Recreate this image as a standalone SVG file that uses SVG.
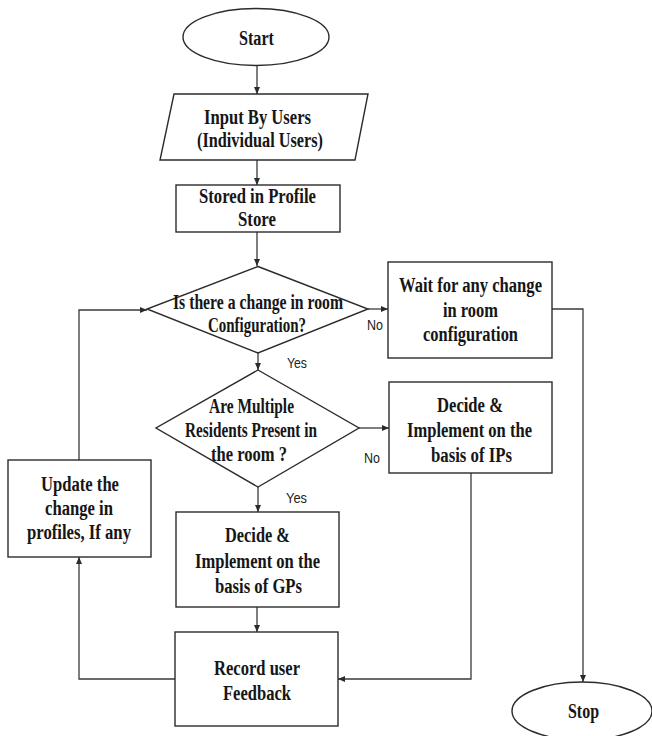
<svg xmlns="http://www.w3.org/2000/svg" width="652" height="736" viewBox="0 0 652 736">
<defs>
<style>
.shape{fill:#fff;stroke:#2b2b2b;stroke-width:1.4}
.conn{fill:none;stroke:#3a3a3a;stroke-width:1.3}
.t{font-family:"Liberation Serif","Times New Roman",serif;font-weight:bold;font-size:20.5px;fill:#161616}
.lbl{font-family:"Liberation Sans",Arial,sans-serif;font-size:15px;fill:#222}
</style>
<marker id="ah" markerWidth="7" markerHeight="6" refX="7" refY="3" orient="auto" markerUnits="userSpaceOnUse">
<path d="M0,0 L7,3 L0,6 Z" fill="#2b2b2b"/>
</marker>
</defs>
<rect width="652" height="736" fill="#fff"/>

<g id="connectors">
<path class="conn" d="M257,65 V94" marker-end="url(#ah)"/>
<path class="conn" d="M257,160 V185" marker-end="url(#ah)"/>
<path class="conn" d="M257,232 V266" marker-end="url(#ah)"/>
<path class="conn" d="M368,309 H388" marker-end="url(#ah)"/>
<path class="conn" d="M258,353 V370" marker-end="url(#ah)"/>
<path class="conn" d="M359,428 H389" marker-end="url(#ah)"/>
<path class="conn" d="M258,487 V512" marker-end="url(#ah)"/>
<path class="conn" d="M257,607 V632" marker-end="url(#ah)"/>
<path class="conn" d="M471,473 V679 H338" marker-end="url(#ah)"/>
<path class="conn" d="M175,679 H79 V557" marker-end="url(#ah)"/>
<path class="conn" d="M79,460 V310 H147" marker-end="url(#ah)"/>
<path class="conn" d="M552,309 H583 V682" marker-end="url(#ah)"/>
<text class="lbl" x="367" y="330" textLength="16" lengthAdjust="spacingAndGlyphs">No</text>
<text class="lbl" x="287" y="368" textLength="20" lengthAdjust="spacingAndGlyphs">Yes</text>
<text class="lbl" x="364" y="463" textLength="16" lengthAdjust="spacingAndGlyphs">No</text>
<text class="lbl" x="286" y="503" textLength="21" lengthAdjust="spacingAndGlyphs">Yes</text>
</g>

<g id="start">
<ellipse class="shape" cx="256" cy="37" rx="73" ry="28.5"/>
<text class="t" x="239" y="45" textLength="35" lengthAdjust="spacingAndGlyphs">Start</text>
</g>

<g id="input">
<path class="shape" d="M174,94 H368 L355,160 H160 Z"/>
<text class="t" x="204" y="124" textLength="107" lengthAdjust="spacingAndGlyphs">Input By Users</text>
<text class="t" x="197" y="147" textLength="126" lengthAdjust="spacingAndGlyphs">(Individual Users)</text>
</g>

<g id="stored">
<rect class="shape" x="176" y="185" width="164" height="47"/>
<text class="t" x="199" y="203" textLength="117" lengthAdjust="spacingAndGlyphs">Stored in Profile</text>
<text class="t" x="238" y="226" textLength="38" lengthAdjust="spacingAndGlyphs">Store</text>
</g>

<g id="decision-change">
<path class="shape" d="M258,266.5 L368,309 L258,353 L147,309 Z"/>
<text class="t" x="173" y="309" textLength="170" lengthAdjust="spacingAndGlyphs">Is there a change in room</text>
<text class="t" x="208" y="332" textLength="98" lengthAdjust="spacingAndGlyphs">Configuration?</text>
</g>

<g id="wait">
<rect class="shape" x="388" y="262" width="164" height="96"/>
<text class="t" x="399" y="292" textLength="143" lengthAdjust="spacingAndGlyphs">Wait for any change</text>
<text class="t" x="443" y="317" textLength="55" lengthAdjust="spacingAndGlyphs">in room</text>
<text class="t" x="423" y="341" textLength="95" lengthAdjust="spacingAndGlyphs">configuration</text>
</g>

<g id="decision-multiple">
<path class="shape" d="M258,370 L359,428 L258,487 L156,428 Z"/>
<text class="t" x="209" y="413" textLength="85" lengthAdjust="spacingAndGlyphs">Are Multiple</text>
<text class="t" x="185" y="437" textLength="132" lengthAdjust="spacingAndGlyphs">Residents Present in</text>
<text class="t" x="211" y="461" textLength="76" lengthAdjust="spacingAndGlyphs">the room ?</text>
</g>

<g id="decide-ip">
<rect class="shape" x="389" y="382" width="163" height="91"/>
<text class="t" x="437" y="412" textLength="66" lengthAdjust="spacingAndGlyphs">Decide &amp;</text>
<text class="t" x="407" y="437" textLength="125" lengthAdjust="spacingAndGlyphs">Implement on the</text>
<text class="t" x="431" y="462" textLength="81" lengthAdjust="spacingAndGlyphs">basis of IPs</text>
</g>

<g id="update">
<rect class="shape" x="8" y="460" width="143" height="97"/>
<text class="t" x="41" y="491" textLength="78" lengthAdjust="spacingAndGlyphs">Update the</text>
<text class="t" x="45" y="515" textLength="68" lengthAdjust="spacingAndGlyphs">change in</text>
<text class="t" x="27" y="539" textLength="104" lengthAdjust="spacingAndGlyphs">profiles, If any</text>
</g>

<g id="decide-gp">
<rect class="shape" x="176" y="512" width="163" height="95"/>
<text class="t" x="225" y="542" textLength="65" lengthAdjust="spacingAndGlyphs">Decide &amp;</text>
<text class="t" x="195" y="568" textLength="125" lengthAdjust="spacingAndGlyphs">Implement on the</text>
<text class="t" x="215" y="593" textLength="87" lengthAdjust="spacingAndGlyphs">basis of GPs</text>
</g>

<g id="record">
<rect class="shape" x="175" y="632" width="163" height="94"/>
<text class="t" x="214" y="675" textLength="86" lengthAdjust="spacingAndGlyphs">Record user</text>
<text class="t" x="223" y="700" textLength="68" lengthAdjust="spacingAndGlyphs">Feedback</text>
</g>

<g id="stop">
<ellipse class="shape" cx="582" cy="711" rx="70" ry="29"/>
<text class="t" x="568" y="718" textLength="31" lengthAdjust="spacingAndGlyphs">Stop</text>
</g>
</svg>
